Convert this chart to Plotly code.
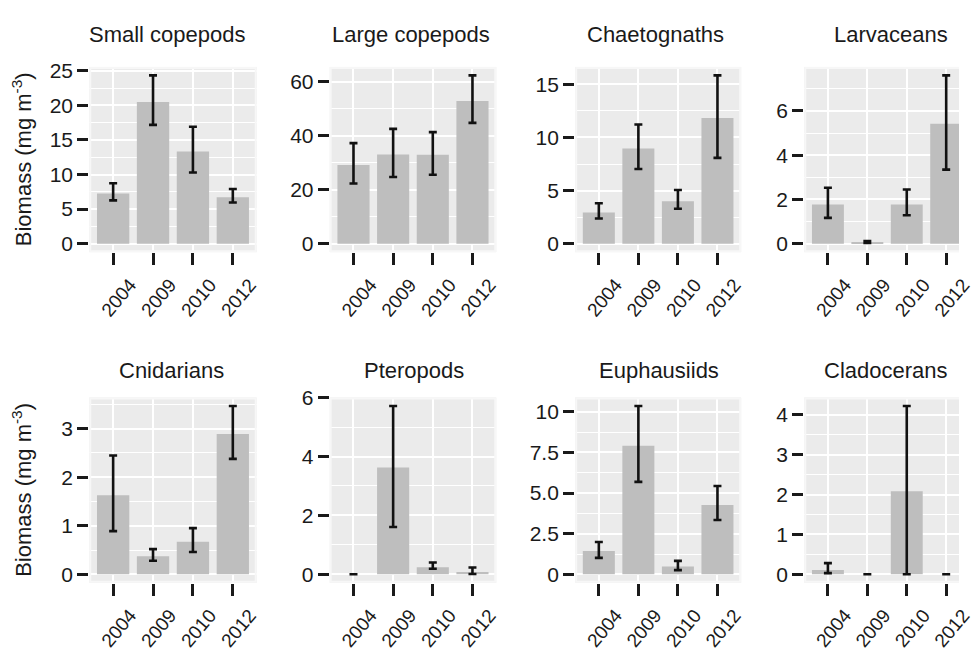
import plotly.graph_objects as go

W, H = 973, 651

years = ["2004", "2009", "2010", "2012"]
taxa = ["Small copepods", "Large copepods", "Chaetognaths", "Larvaceans",
        "Cnidarians", "Pteropods", "Euphausiids", "Cladocerans"]

# mean biomass with upper / lower error-bar limits (mg m^-3)
small_copepods = [7.26, 20.5, 13.34, 6.7]
small_copepods_hi = [8.75, 24.34, 16.9, 7.9]
small_copepods_lo = [6.27, 17.18, 10.3, 5.95]

large_copepods = [29.1, 33.05, 32.9, 52.8]
large_copepods_hi = [37.2, 42.5, 41.3, 62.3]
large_copepods_lo = [22.3, 24.7, 25.5, 44.7]

chaetognaths = [2.93, 8.96, 3.99, 11.83]
chaetognaths_hi = [3.81, 11.22, 5.06, 15.85]
chaetognaths_lo = [2.38, 7.04, 3.29, 8.08]

larvaceans = [1.77, 0.08, 1.77, 5.42]
larvaceans_hi = [2.53, 0.12, 2.45, 7.61]
larvaceans_lo = [1.17, 0.04, 1.29, 3.35]

cnidarians = [1.63, 0.373, 0.673, 2.89]
cnidarians_hi = [2.45, 0.52, 0.953, 3.47]
cnidarians_lo = [0.89, 0.28, 0.46, 2.38]

pteropods = [0.0, 3.63, 0.24, 0.08]
pteropods_hi = [0.0, 5.72, 0.40, 0.23]
pteropods_lo = [0.0, 1.61, 0.19, 0.01]

euphausiids = [1.43, 7.91, 0.48, 4.27]
euphausiids_hi = [1.99, 10.36, 0.83, 5.43]
euphausiids_lo = [1.01, 5.69, 0.26, 3.34]

cladocerans = [0.106, 0.0, 2.08, 0.0]
cladocerans_hi = [0.28, 0.0, 4.22, 0.0]
cladocerans_lo = [0.03, 0.0, 0.0, 0.0]

y_tickvals = [[0, 5, 10, 15, 20, 25], [0, 20, 40, 60], [0, 5, 10, 15], [0, 2, 4, 6],
              [0, 1, 2, 3], [0, 2, 4, 6], [0, 2.5, 5, 7.5, 10], [0, 1, 2, 3, 4]]
y_ticktext = [["0", "5", "10", "15", "20", "25"], ["0", "20", "40", "60"],
              ["0", "5", "10", "15"], ["0", "2", "4", "6"], ["0", "1", "2", "3"],
              ["0", "2", "4", "6"], ["0", "2.5", "5.0", "7.5", "10"],
              ["0", "1", "2", "3", "4"]]
y_title = "Biomass (mg m<sup>-3</sup>)"

means = [small_copepods, large_copepods, chaetognaths, larvaceans,
         cnidarians, pteropods, euphausiids, cladocerans]
highs = [small_copepods_hi, large_copepods_hi, chaetognaths_hi, larvaceans_hi,
         cnidarians_hi, pteropods_hi, euphausiids_hi, cladocerans_hi]
lows = [small_copepods_lo, large_copepods_lo, chaetognaths_lo, larvaceans_lo,
        cnidarians_lo, pteropods_lo, euphausiids_lo, cladocerans_lo]

# layout in window pixels
col_x = [(90.5, 260.5), (334.5, 503.5), (583.5, 752.0), (816.0, 984.0)]
row_y = [(57.5, 248.0), (397.5, 588.0)]
title_x = [[170.0, 416.5, 665.0, 904.0], [173.5, 420.0, 668.5, 898.5]]
title_y = [24.0, 369.5]


def px(x):
    return x / W


def py(y):
    return 1 - y / H


FONT = "Liberation Sans, Arial, Helvetica, sans-serif"
TXT = "#1a1a1a"
BG = "#EBEBEB"
BAR = "#BEBEBE"

fig = go.Figure()
layout = dict(
    width=W, height=H, margin=dict(l=0, r=0, t=0, b=0),
    paper_bgcolor="white", plot_bgcolor=BG, showlegend=False,
    font=dict(family=FONT, color=TXT),
)
annotations = []
shapes = []

for i in range(8):
    r, c = divmod(i, 4)
    n = i + 1
    xa = "x" if n == 1 else f"x{n}"
    ya = "y" if n == 1 else f"y{n}"
    m, hi, lo = means[i], highs[i], lows[i]
    fig.add_trace(go.Bar(
        x=years, y=m, xaxis=xa, yaxis=ya, width=0.81,
        marker=dict(color=BAR, line=dict(width=0)),
        error_y=dict(type="data", symmetric=False,
                     array=[h - v for h, v in zip(hi, m)],
                     arrayminus=[v - l for v, l in zip(m, lo)],
                     color="#111111", thickness=2.6, width=4),
        hoverinfo="skip",
    ))
    x0p, x1p = col_x[c]
    y0p, y1p = row_y[r]
    px_per_cat = (x1p - x0p) / 4.2
    xr_hi = 3.6
    if x1p > W:
        xr_hi = -0.6 + (W - x0p) / px_per_cat
        x1p = W
    top = max(max(hi), max(m))
    yr = [-0.05 * top, 1.05 * top]
    tv = y_tickvals[i]
    minor_d = tv[1] / 2.0
    layout[f"xaxis{'' if n == 1 else n}"] = dict(
        domain=[px(x0p), px(x1p)], anchor=ya, type="category",
        categoryorder="array", categoryarray=years,
        range=[-0.6, xr_hi], fixedrange=True,
        showgrid=True, gridcolor="white", gridwidth=2.2, zeroline=False,
        ticks="outside", ticklen=12, tickwidth=2.7, tickcolor=TXT,
        tickangle=-50, ticklabelshift=17, ticklabelstandoff=1,
        tickfont=dict(family=FONT, size=19, color=TXT),
        showline=False,
    )
    layout[f"yaxis{'' if n == 1 else n}"] = dict(
        domain=[py(y1p), py(y0p)], anchor=xa, range=yr, fixedrange=True,
        tickmode="array", tickvals=tv, ticktext=y_ticktext[i],
        showgrid=True, gridcolor="white", gridwidth=2.2, zeroline=False,
        minor=dict(dtick=minor_d, tick0=0, showgrid=True, gridcolor="white",
                   gridwidth=1.1, ticks=""),
        ticks="outside", ticklen=11, tickwidth=2.7, tickcolor=TXT,
        tickfont=dict(family=FONT, size=21, color=TXT),
        showline=False,
    )
    # light panel border (drawn on the panel edge, half visible inside)
    shapes.append(dict(type="rect", xref=xa, yref=ya, x0=-0.6, x1=3.6,
                       y0=yr[0], y1=yr[1], layer="between",
                       line=dict(color="#F7F7F7", width=4)))
    # panel title
    annotations.append(dict(
        text=taxa[i], xref="paper", yref="paper",
        x=px(title_x[r][c]), y=py(title_y[r]),
        xanchor="center", yanchor="middle", showarrow=False,
        font=dict(family=FONT, size=22, color=TXT),
    ))

for r in range(2):
    yc = (row_y[r][0] + row_y[r][1]) / 2
    annotations.append(dict(
        text=y_title, xref="paper", yref="paper", x=px(22), y=py(yc),
        xanchor="center", yanchor="middle", textangle=-90, showarrow=False,
        font=dict(family=FONT, size=22, color=TXT),
    ))

layout["annotations"] = annotations
layout["shapes"] = shapes
fig.update_layout(**layout)
# remove the browser's default 8px body margin so the figure fills the window
fig.write_html("out.html", config={"displayModeBar": False},
               post_script="document.body.style.margin='0';")
